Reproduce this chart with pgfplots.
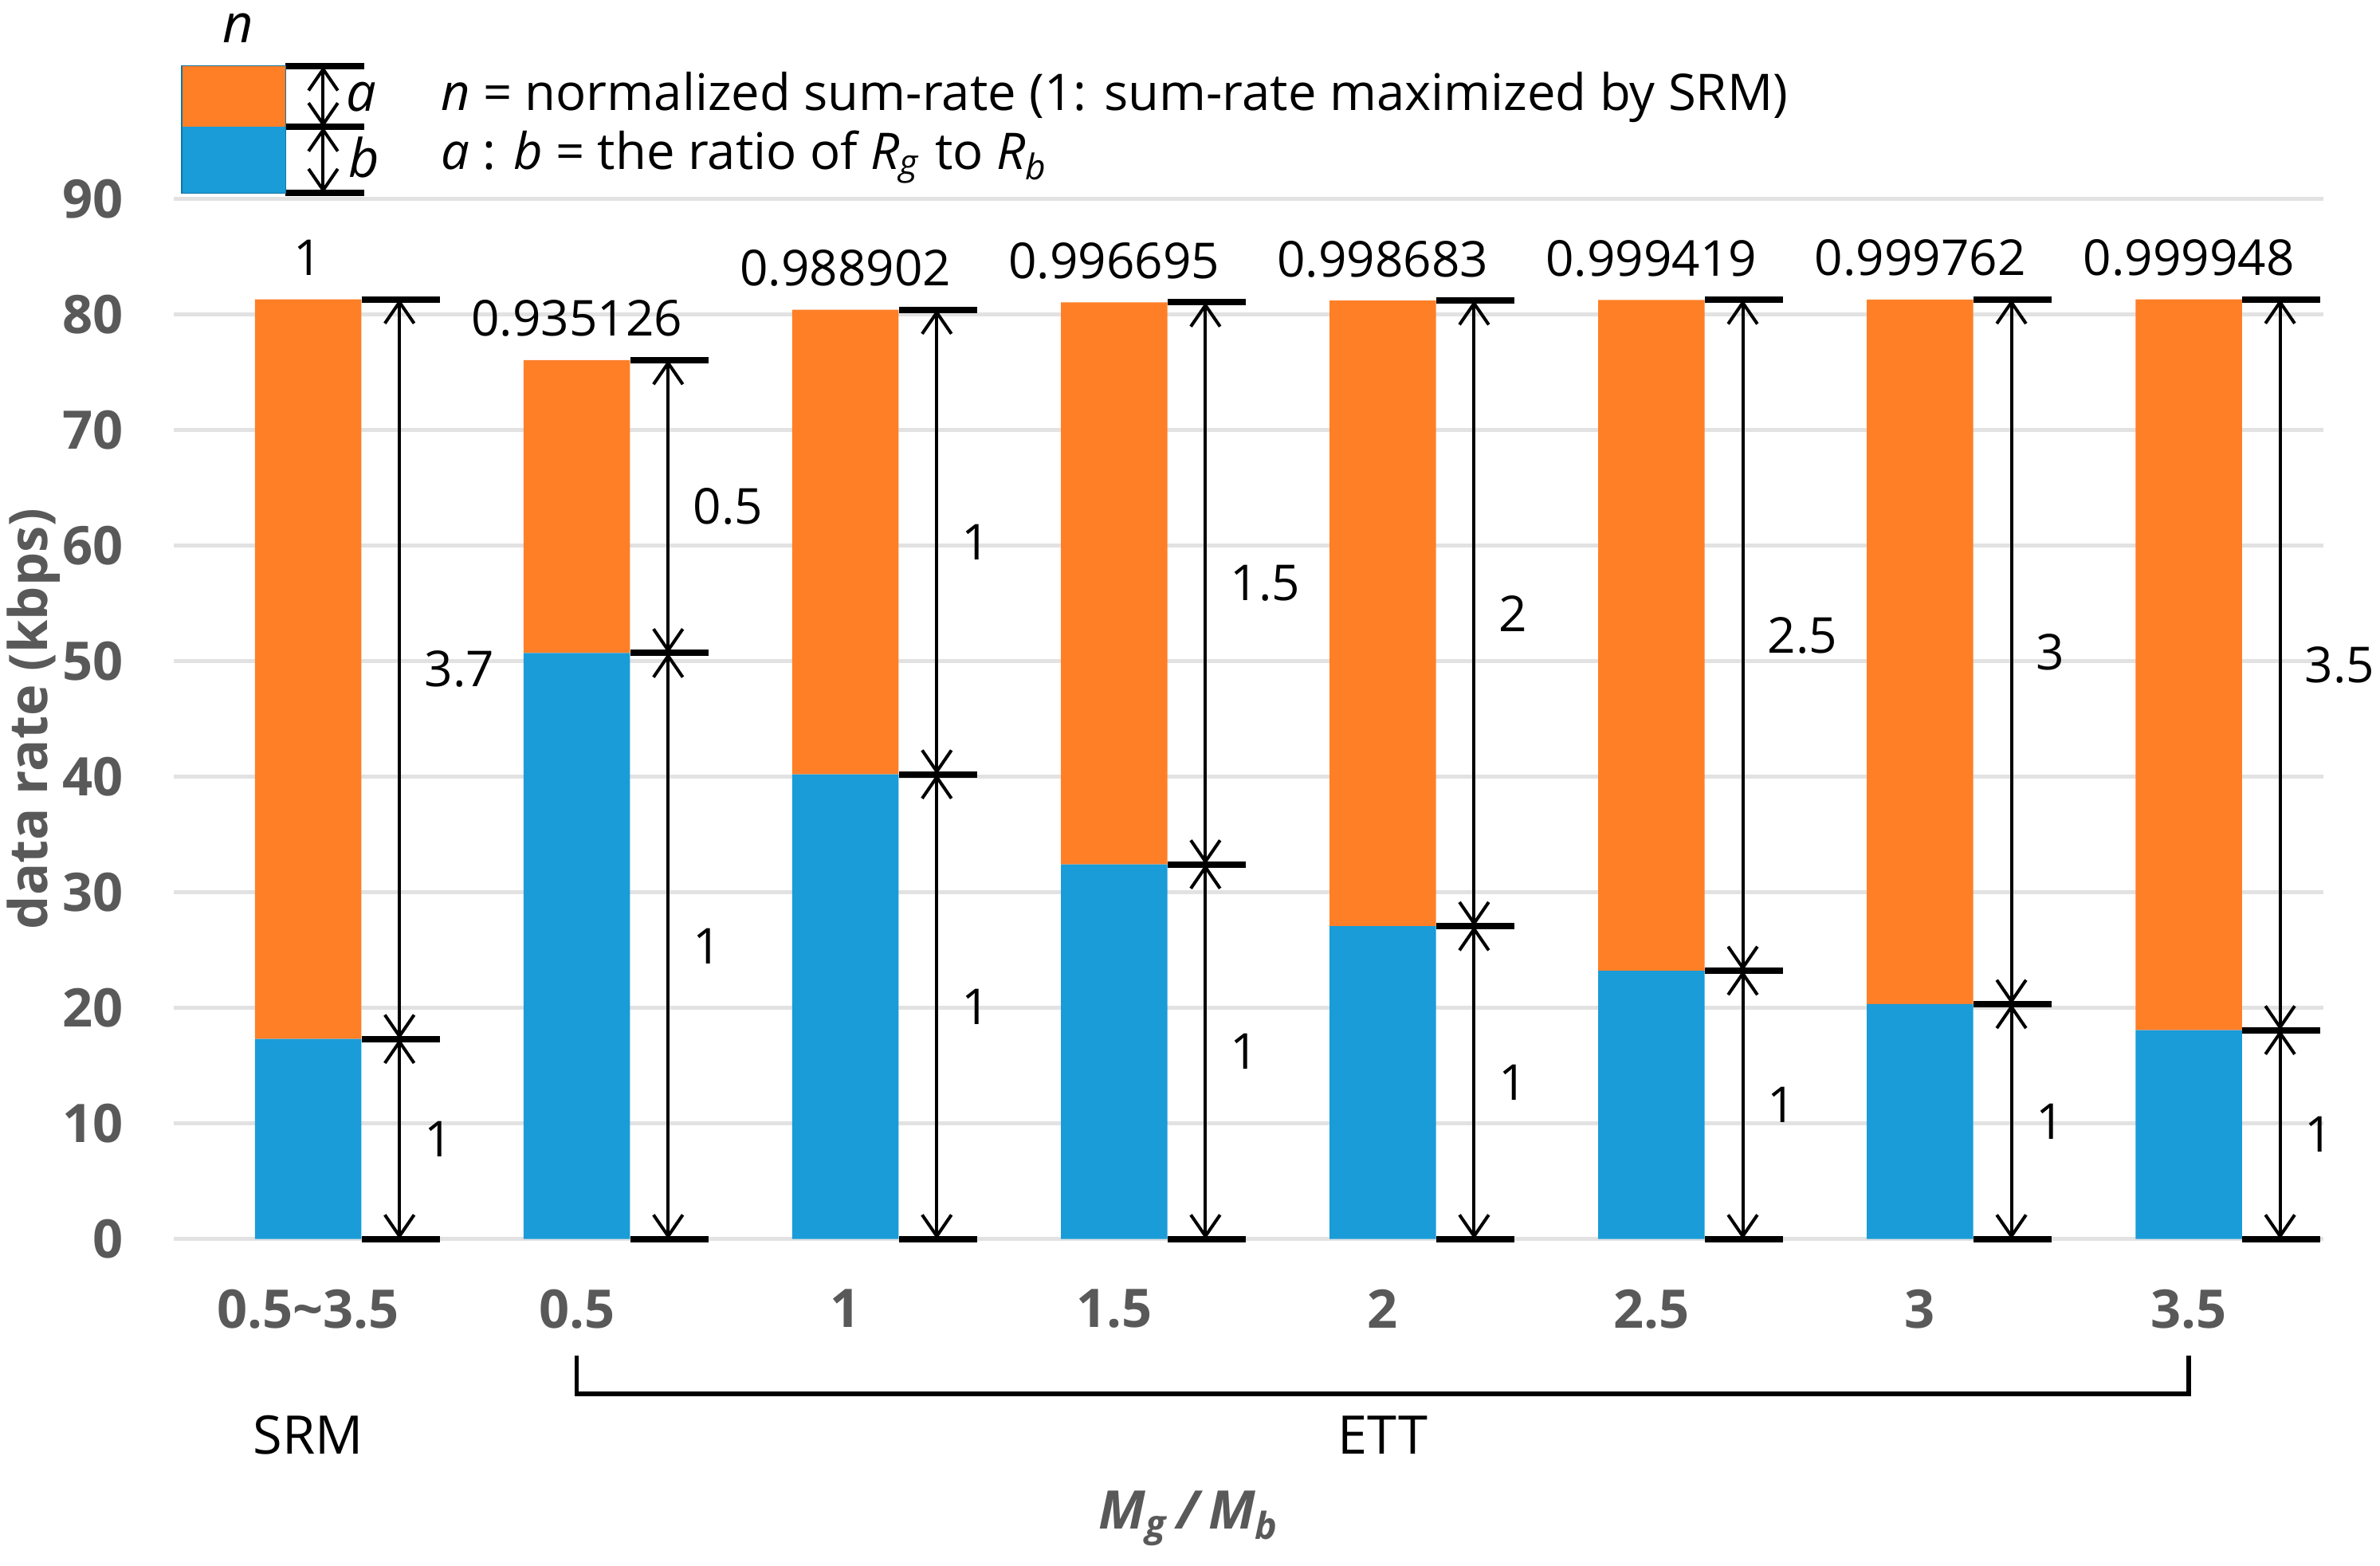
\documentclass[border=0pt]{standalone}
\usepackage{pgfplots}
\pgfplotsset{compat=1.18}
\usepackage{pgfplotstable}
\usepackage{fontspec}
\setmainfont{Open Sans}
\usetikzlibrary{arrows.meta}
\definecolor{barblue}{HTML}{1A9CD8}
\definecolor{barorange}{HTML}{FF7F27}
\definecolor{gridgray}{HTML}{E2E2E2}
\definecolor{labgray}{HTML}{595959}

\pgfplotstableread{
x blue orange
0 17.30 64.00
1 50.69 25.34
2 40.20 40.20
3 32.41 48.62
4 27.06 54.13
5 23.21 58.04
6 20.32 60.96
7 18.07 63.23
}\data

\tikzset{dimarr/.style={line width=0.6pt,{Straight Barb[length=4pt,width=5.5pt]}-{Straight Barb[length=4pt,width=5.5pt]}},
  dimline/.style={line width=1.2pt},
  lab/.style={font=\fontsize{9.3}{11}\selectfont, text=black}}

% x, blue, total, n, ratio
\newcommand{\annot}[5]{%
  \draw[dimline] (axis cs:#1+0.2,0) -- (axis cs:#1+0.49,0);
  \draw[dimline] (axis cs:#1+0.2,#2) -- (axis cs:#1+0.49,#2);
  \draw[dimline] (axis cs:#1+0.2,#3) -- (axis cs:#1+0.49,#3);
  \draw[dimarr] (axis cs:#1+0.34,0) -- (axis cs:#1+0.34,#2);
  \draw[dimarr] (axis cs:#1+0.34,#2) -- (axis cs:#1+0.34,#3);
  \node[lab, anchor=west, inner sep=0pt, xshift=4.5pt] at (axis cs:#1+0.34,{#2/2}) {1};
  \node[lab, anchor=west, inner sep=0pt, xshift=4.5pt] at (axis cs:#1+0.34,{(#2+#3)/2}) {#5};
  \node[lab, anchor=base, inner sep=0pt, yshift=4.5pt] at (axis cs:#1,#3) {#4};
}

\begin{document}
\begin{tikzpicture}
\begin{axis}[
  scale only axis, width=404.1pt, height=195.6pt,
  xmin=-0.5, xmax=7.5, ymin=0, ymax=90,
  ybar stacked, bar width=20pt,
  xtick=data,
  xticklabels={0.5\textasciitilde3.5,0.5,1,1.5,2,2.5,3,3.5},
  ytick={0,10,...,90},
  ymajorgrids, grid style={gridgray, line width=0.8pt},
  axis line style={draw=none}, major tick style={draw=none},
  tick label style={font=\fontsize{10}{12}\selectfont\bfseries, text=labgray},
  xticklabel style={yshift=-6pt},
  yticklabel style={xshift=-6pt},
  /pgf/number format/assume math mode=true,
  clip=false,
]
\addplot[fill=barblue, draw=none] table[x=x, y=blue] {\data};
\addplot[fill=barorange, draw=none] table[x=x, y=orange] {\data};

\annot{0}{17.30}{81.30}{1}{3.7}
\annot{1}{50.69}{76.03}{0.935126}{0.5}
\annot{2}{40.20}{80.40}{0.988902}{1}
\annot{3}{32.41}{81.03}{0.996695}{1.5}
\annot{4}{27.06}{81.19}{0.998683}{2}
\annot{5}{23.21}{81.25}{0.999419}{2.5}
\annot{6}{20.32}{81.28}{0.999762}{3}
\annot{7}{18.07}{81.30}{0.999948}{3.5}

% group bracket and group names
\draw[line width=0.8pt] (axis cs:1,-10.1) -- (axis cs:1,-13.4) -- (axis cs:7,-13.4) -- (axis cs:7,-10.1);
\node[lab, font=\fontsize{10}{12}\selectfont] at (axis cs:0,-16.95) {SRM};
\node[lab, font=\fontsize{10}{12}\selectfont] at (axis cs:4,-16.95) {ETT};
\node[font=\fontsize{10}{12}\selectfont\bfseries\itshape, text=labgray] at (axis cs:3.28,-24.2) {M\textsubscript{g}\,/\,M\textsubscript{b}};
\node[rotate=90, font=\fontsize{10}{12}\selectfont\bfseries, text=labgray] at (axis cs:-1.023,45) {data rate (kbps)};

% key
\fill[barorange] (axis cs:-0.469,96.2) rectangle (axis cs:-0.085,101.45);
\fill[barblue] (axis cs:-0.469,90.5) rectangle (axis cs:-0.085,96.2);
\draw[line width=0.4pt, barblue!75!black] (axis cs:-0.469,90.5) rectangle (axis cs:-0.085,101.45);
\draw[dimline] (axis cs:-0.085,101.45) -- (axis cs:0.209,101.45);
\draw[dimline] (axis cs:-0.085,96.2) -- (axis cs:0.209,96.2);
\draw[dimline] (axis cs:-0.085,90.5) -- (axis cs:0.209,90.5);
\draw[dimarr] (axis cs:0.056,101.45) -- (axis cs:0.056,96.2);
\draw[dimarr] (axis cs:0.056,96.2) -- (axis cs:0.056,90.5);
\node[lab, font=\fontsize{10}{12}\selectfont\itshape] at (axis cs:0.198,98.8) {a};
\node[lab, font=\fontsize{10}{12}\selectfont\itshape] at (axis cs:0.209,93.6) {b};
\node[lab, font=\fontsize{10}{12}\selectfont\itshape] at (axis cs:-0.26,104.8) {n};
\node[lab, font=\fontsize{9.5}{12}\selectfont, anchor=west, inner sep=0pt] at (axis cs:0.49,98.8) {\textit{n} = normalized sum-rate (1: sum-rate maximized by SRM)};
\node[lab, font=\fontsize{9.5}{12}\selectfont, anchor=west, inner sep=0pt] at (axis cs:0.49,93.6) {\textit{a} : \textit{b} = the ratio of \textit{R}\textsubscript{\textit{g}} to \textit{R}\textsubscript{\textit{b}}};

\coordinate (bbsw) at (axis cs:-1.147,-28.25);
\coordinate (bbne) at (axis cs:7.712,107.2);
\end{axis}
\pgfresetboundingbox
\path[use as bounding box] (bbsw) rectangle (bbne);
\end{tikzpicture}
\end{document}
